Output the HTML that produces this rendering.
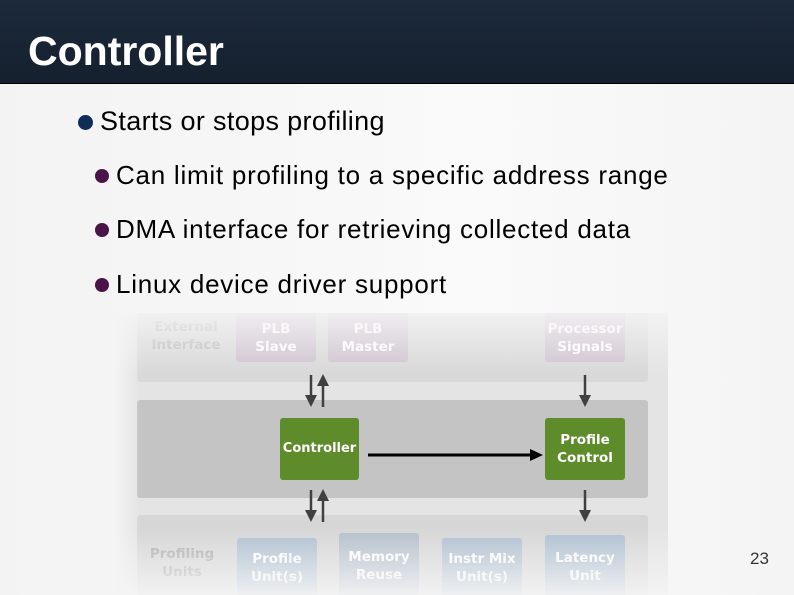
<!DOCTYPE html>
<html><head><style>
*{margin:0;padding:0}
body{width:794px;height:595px;overflow:hidden;background:linear-gradient(90deg,#f3f3f3,#fafafa 60%,#f4f4f4);font-family:"Liberation Sans",sans-serif;position:relative}
.hdr{position:absolute;left:0;top:0;width:794px;height:83px;background:linear-gradient(#1c2a3c,#15202e);border-bottom:1px solid #000}
.hdr span{position:absolute;left:28px;top:28px;color:#fff;font-weight:bold;font-size:41px}
.t{position:absolute;color:#000;white-space:nowrap}
.b{position:absolute;border-radius:50%}
.a{position:absolute}
.box{position:absolute;border-radius:3px;color:#fff;font-family:"DejaVu Sans",sans-serif;font-weight:bold;font-size:13.5px;text-align:center;display:flex;align-items:center;justify-content:center;line-height:18px}
</style></head><body>
<div class="hdr"><span>Controller</span></div>
<div class="b" style="left:78px;top:115px;width:15px;height:15px;background:#0f2d55"></div>
<div class="t" style="left:100px;top:106px;font-size:27px;letter-spacing:0.35px">Starts or stops profiling</div>
<div class="b" style="left:95px;top:169px;width:14px;height:14px;background:#4a1448"></div>
<div class="t" style="left:116px;top:160px;font-size:26px;letter-spacing:0.75px">Can limit profiling to a specific address range</div>
<div class="b" style="left:95px;top:223px;width:14px;height:14px;background:#4a1448"></div>
<div class="t" style="left:116px;top:214px;font-size:26px;letter-spacing:0.75px">DMA interface for retrieving collected data</div>
<div class="b" style="left:95px;top:278px;width:14px;height:14px;background:#4a1448"></div>
<div class="t" style="left:116px;top:269px;font-size:26px;letter-spacing:0.75px">Linux device driver support</div>

<div class="a" style="left:115px;top:313px;width:553px;height:282px;background:#e4e4e4;overflow:hidden">
  <div class="a" style="left:22px;top:0;width:511px;height:69px;background:#d9d9d9;border-radius:3px"></div>
  <div class="a" style="left:22px;top:87px;width:511px;height:98px;background:#c4c4c4;border-radius:3px"></div>
  <div class="a" style="left:22px;top:202px;width:511px;height:90px;background:#d6d6d6;border-radius:3px"></div>
  <div class="box" style="left:26px;top:0;width:90px;height:45px;color:#bbb">External<br>Interface</div>
  <div class="box" style="left:121px;top:0;width:80px;height:49px;background:#cfc3d0">PLB<br>Slave</div>
  <div class="box" style="left:213px;top:0;width:80px;height:49px;background:#cfc3d0">PLB<br>Master</div>
  <div class="box" style="left:430px;top:0;width:80px;height:49px;background:#cfc3d0">Processor<br>Signals</div>
  <div class="box" style="left:165px;top:105px;width:79px;height:62px;background:#5f8c2a;font-size:13px">Controller</div>
  <div class="box" style="left:430px;top:105px;width:80px;height:62px;background:#5f8c2a">Profile<br>Control</div>
  <div class="box" style="left:22px;top:230px;width:90px;height:40px;color:#aaa">Profiling<br>Units</div>
  <div class="box" style="left:122px;top:225px;width:80px;height:60px;background:#aebfd0">Profile<br>Unit(s)</div>
  <div class="box" style="left:224px;top:220px;width:80px;height:65px;background:#b4bfcb">Memory<br>Reuse</div>
  <div class="box" style="left:327px;top:225px;width:80px;height:60px;background:#aebfd0">Instr Mix<br>Unit(s)</div>
  <div class="box" style="left:430px;top:222px;width:80px;height:63px;background:#aebfd0">Latency<br>Unit</div>
  <svg class="a" style="left:0;top:0" width="553" height="282">
    <g fill="#404040" stroke="#404040" stroke-width="2.5">
      <line x1="196" y1="62" x2="196" y2="85"/><polygon points="190,82 202,82 196,94" stroke="none"/>
      <line x1="208" y1="70" x2="208" y2="94"/><polygon points="202,73 214,73 208,61" stroke="none"/>
      <line x1="196" y1="177" x2="196" y2="200"/><polygon points="190,197 202,197 196,209" stroke="none"/>
      <line x1="208" y1="185" x2="208" y2="209"/><polygon points="202,188 214,188 208,176" stroke="none"/>
      <line x1="470" y1="62" x2="470" y2="85"/><polygon points="464,82 476,82 470,94" stroke="none"/>
      <line x1="470" y1="177" x2="470" y2="200"/><polygon points="464,197 476,197 470,209" stroke="none"/>
    </g>
    <line x1="253" y1="142" x2="418" y2="142" stroke="#000" stroke-width="3"/>
    <polygon points="415,136 428,142 415,148" fill="#000"/>
  </svg>
  <div class="a" style="left:0;top:0;width:553px;height:60px;background:linear-gradient(rgba(245,245,245,.85),rgba(245,245,245,0))"></div>
  <div class="a" style="left:0;top:215px;width:553px;height:67px;background:linear-gradient(rgba(245,245,245,0),rgba(245,245,245,.9))"></div>
  <div class="a" style="left:0;top:0;width:25px;height:282px;background:linear-gradient(90deg,rgba(245,245,245,.9),rgba(245,245,245,0))"></div>
</div>
<div class="t" style="left:750px;top:549px;font-size:17px;color:#333">23</div>
</body></html>
